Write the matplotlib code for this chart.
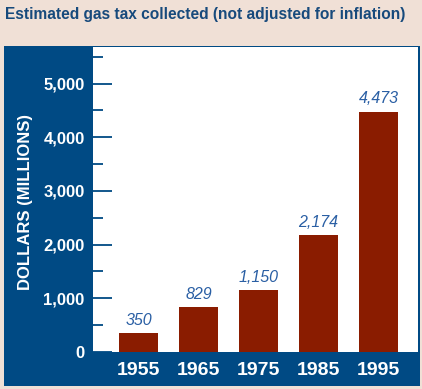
import matplotlib
matplotlib.use('Agg')
import matplotlib.pyplot as plt
from matplotlib.patches import Rectangle
from matplotlib.ticker import MultipleLocator, FuncFormatter

# data
years = ['1955', '1965', '1975', '1985', '1995']
tax_collected = [350, 829, 1150, 2174, 4473]

BEIGE = '#f0e0d6'
BLUE = '#004a84'
RED = '#8a1c00'
LABEL_BLUE = '#2a5fa4'

plt.rcParams['font.family'] = ['Liberation Sans Narrow', 'Liberation Sans', 'DejaVu Sans']
plt.rcParams['font.stretch'] = 'condensed'

W, H = 422, 389
fig = plt.figure(figsize=(W / 100, H / 100), dpi=100, facecolor=BEIGE)

# blue panel behind the plot
fig.patches.append(Rectangle((4 / W, 1 - 386 / H), 416 / W, 340 / H,
                             transform=fig.transFigure, facecolor=BLUE,
                             edgecolor='none', zorder=-1))

ax = fig.add_axes([93 / W, 1 - 352 / H, 325 / W, 305 / H])
ax.set_zorder(2)
ax.set_facecolor('white')

x = range(len(years))
bars = ax.bar(x, tax_collected, width=0.65, color=RED, zorder=2)
ax.bar_label(bars, labels=[f'{v:,}' for v in tax_collected], padding=4,
             fontsize=11.5, style='italic', color=LABEL_BLUE)

ax.set_xlim(-0.758, 4.658)
ax.set_ylim(0, 5680)
ax.set_xticks(list(x))
ax.set_xticklabels(years)
ax.yaxis.set_major_locator(MultipleLocator(1000))
ax.yaxis.set_minor_locator(MultipleLocator(500))
ax.yaxis.set_major_formatter(FuncFormatter(lambda v, p: f'{int(v):,}'))

for s in ax.spines.values():
    s.set_visible(False)

ax.tick_params(axis='y', which='major', direction='in', length=14, width=1.3,
               color=BLUE, labelcolor='white', labelsize=12, pad=6)
ax.tick_params(axis='y', which='minor', direction='in', length=7, width=1.3,
               color=BLUE)
ax.tick_params(axis='x', length=0, labelcolor='white', labelsize=14, pad=7)
for lab in ax.get_xticklabels() + ax.get_yticklabels():
    lab.set_fontweight('bold')

fig.text(26 / W, 1 - 202 / H, 'DOLLARS (MILLIONS)', rotation=90,
         ha='center', va='center', color='white', fontsize=12,
         fontweight='bold')

fig.text(5 / W, 1 - 14 / H,
         'Estimated gas tax collected (not adjusted for inflation)',
         ha='left', va='center', color='#174a7c', fontsize=11.2,
         fontweight='bold')

fig.savefig('out.png', dpi=100, facecolor=BEIGE)
